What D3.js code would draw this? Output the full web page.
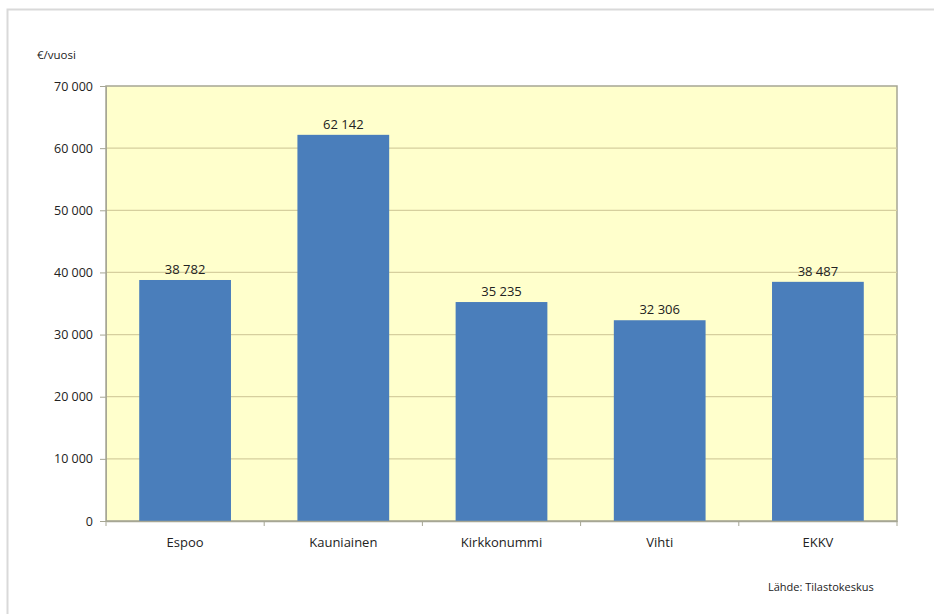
<!DOCTYPE html>
<html><head><meta charset="utf-8">
<script src="https://cdn.jsdelivr.net/npm/d3@7"></script>
<style>body{margin:0;background:#fff;font-family:"Open Sans","DejaVu Sans",sans-serif;}</style>
</head><body><svg id="c" width="934" height="614"></svg>
<script>
const categories = ["Espoo","Kauniainen","Kirkkonummi","Vihti","EKKV"];
const values = [38782, 62142, 35235, 32306, 38487];
const yTicks = [0,10000,20000,30000,40000,50000,60000,70000];
const yUnit = "€/vuosi";
const source = "Lähde: Tilastokeskus";

const svg = d3.select("#c");
const fmt = v => d3.format(",")(v).replace(/,/g, " ");
const L = 106, R = 897, T = 86, B = 521;

svg.append("rect").attr("x",7.5).attr("y",9.5).attr("width",940).attr("height",620)
  .attr("fill","#fff").attr("stroke","#d9d9d9").attr("stroke-width",2);

const x = d3.scaleBand().domain(categories).range([L,R]).paddingInner(0.42).paddingOuter(0.21);
const y = d3.scaleLinear().domain([0,70000]).range([B,T]);

svg.append("rect").attr("x",L).attr("y",T).attr("width",R-L).attr("height",B-T)
  .attr("fill","#ffffcc").attr("stroke","#a6a694").attr("stroke-width",1.5);

svg.append("g").selectAll("line").data(yTicks.filter(d=>d>0 && d<70000)).join("line")
  .attr("x1",L).attr("x2",R).attr("y1",d=>y(d)).attr("y2",d=>y(d))
  .attr("stroke","#d6cf9e").attr("stroke-width",1.2);

svg.append("g").selectAll("rect").data(values).join("rect")
  .attr("x",(d,i)=>x(categories[i])).attr("width",x.bandwidth())
  .attr("y",d=>y(d)).attr("height",d=>B-y(d)).attr("fill","#4a7ebb");

svg.append("g").selectAll("text").data(values).join("text")
  .attr("x",(d,i)=>x(categories[i])+x.bandwidth()/2).attr("y",d=>y(d)-6)
  .attr("text-anchor","middle").attr("font-size",13).attr("fill","#222")
  .text(d=>fmt(d));

const ya = d3.axisLeft(y).tickValues(yTicks).tickFormat(fmt).tickSize(6).tickPadding(7);
const gy = svg.append("g").attr("transform",`translate(${L},0)`).call(ya);
gy.select(".domain").attr("stroke","#a6a694");
gy.selectAll(".tick line").attr("stroke","#a6a694");
gy.selectAll("text").attr("font-size",12.5).attr("fill","#222").attr("font-family","Open Sans, DejaVu Sans, sans-serif");

const xa = d3.axisBottom(x).tickSize(0).tickPadding(17);
const gx = svg.append("g").attr("transform",`translate(0,${B})`).call(xa);
gx.select(".domain").attr("stroke","#a6a694").attr("stroke-width",1.5);
gx.selectAll("text").attr("font-size",13).attr("fill","#222").attr("font-family","Open Sans, DejaVu Sans, sans-serif");
const step = x.step();
svg.append("g").selectAll("line").data(d3.range(categories.length+1)).join("line")
  .attr("x1",i=>L+i*step).attr("x2",i=>L+i*step).attr("y1",B).attr("y2",B+5)
  .attr("stroke","#a6a694");

svg.append("text").attr("x",37).attr("y",59).attr("font-size",11.5).attr("fill","#222").text(yUnit);
svg.append("text").attr("x",768).attr("y",591).attr("font-size",11).attr("fill","#222").text(source);
</script></body></html>
